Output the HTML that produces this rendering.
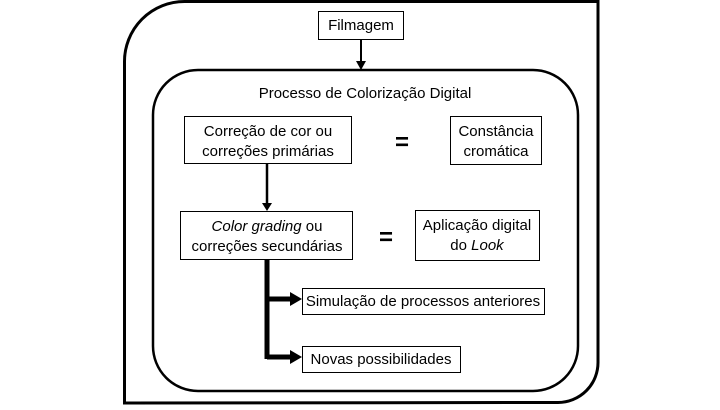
<!DOCTYPE html>
<html><head><meta charset="utf-8"><style>
body{margin:0;width:720px;height:405px;background:#fff;overflow:hidden}
svg text{font-family:"Liberation Sans",sans-serif;font-size:15px;fill:#000}
</style></head><body>
<svg width="720" height="405" viewBox="0 0 720 405">
<path d="M124.5,403 L124.5,62 A60,60 0 0 1 184.5,1.5 L598,1.5 L598,362 A40,40 0 0 1 558,402.5 Z" fill="none" stroke="#000" stroke-width="3"/>
<rect x="153" y="70" width="425" height="321" rx="45" ry="45" fill="none" stroke="#000" stroke-width="2.5"/>
<rect x="318.5" y="11.5" width="85" height="28" fill="#fff" stroke="#000"/>
<text x="361" y="30" text-anchor="middle">Filmagem</text>
<line x1="361" y1="39" x2="361" y2="62" stroke="#000" stroke-width="2"/>
<polygon points="356,61 366,61 361,70" fill="#000"/>
<text x="365" y="98" text-anchor="middle">Processo de Colorização Digital</text>
<rect x="184.5" y="116.5" width="167" height="47" fill="#fff" stroke="#000"/>
<text x="268" y="136" text-anchor="middle">Correção de cor ou</text>
<text x="268" y="156" text-anchor="middle">correções primárias</text>
<text x="402" y="150" text-anchor="middle" style="font-size:24px;font-weight:bold">=</text>
<rect x="450.5" y="116.5" width="91" height="48" fill="#fff" stroke="#000"/>
<text x="496" y="136" text-anchor="middle">Constância</text>
<text x="496" y="156" text-anchor="middle">cromática</text>
<line x1="267" y1="163" x2="267" y2="204" stroke="#000" stroke-width="2.5"/>
<polygon points="262,203 272,203 267,211" fill="#000"/>
<rect x="180.5" y="211.5" width="172" height="48" fill="#fff" stroke="#000"/>
<text x="267" y="231" text-anchor="middle"><tspan font-style="italic">Color grading</tspan> ou</text>
<text x="267" y="251" text-anchor="middle">correções secundárias</text>
<text x="386" y="245" text-anchor="middle" style="font-size:24px;font-weight:bold">=</text>
<rect x="415.5" y="210.5" width="124" height="50" fill="#fff" stroke="#000"/>
<text x="477" y="230" text-anchor="middle">Aplicação digital</text>
<text x="477" y="250" text-anchor="middle">do <tspan font-style="italic">Look</tspan></text>
<path d="M267,260 L267,359 M267,299 L292,299 M267,357 L292,357" stroke="#000" stroke-width="5" fill="none"/>
<polygon points="290,292 302,299 290,306" fill="#000"/>
<polygon points="290,350 302,357 290,364" fill="#000"/>
<rect x="302.5" y="288.5" width="242" height="26" fill="#fff" stroke="#000"/>
<text x="423" y="306" text-anchor="middle">Simulação de processos anteriores</text>
<rect x="302.5" y="346.5" width="158" height="26" fill="#fff" stroke="#000"/>
<text x="381" y="364" text-anchor="middle">Novas possibilidades</text>
</svg>
</body></html>
